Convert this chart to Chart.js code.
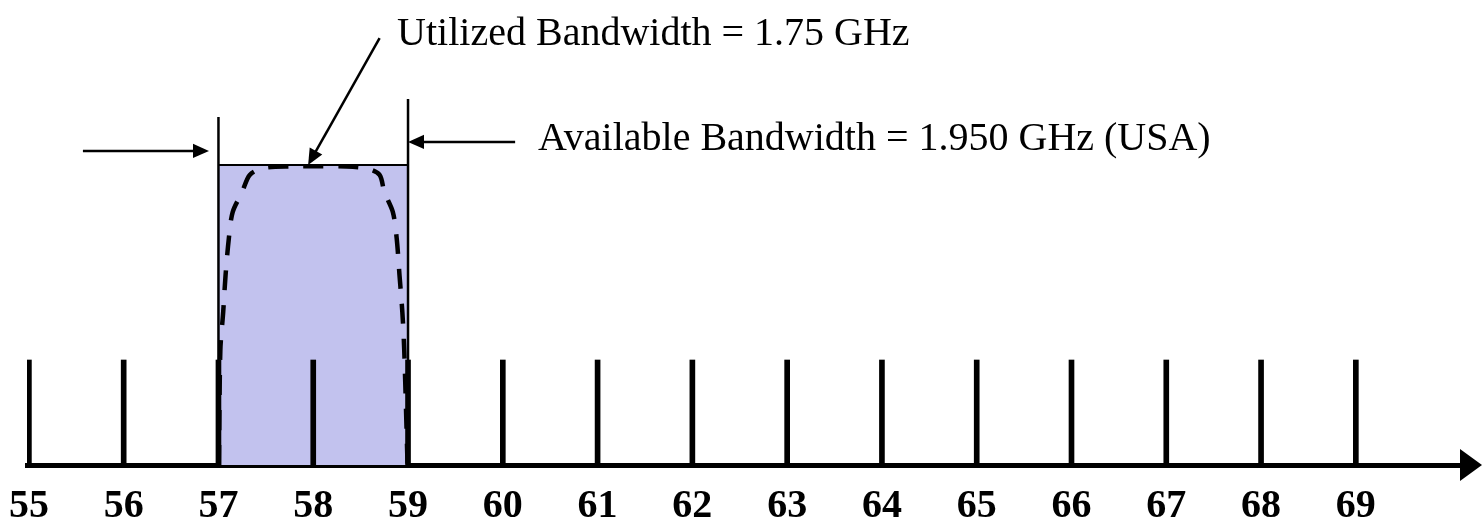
<!DOCTYPE html>
<html>
<head>
<meta charset="utf-8">
<script src="https://cdn.jsdelivr.net/npm/chart.js@4/dist/chart.umd.min.js"></script>
<style>
  html, body { margin: 0; padding: 0; background: #fff; }
  #wrap { width: 1482px; height: 524px; position: relative; }
</style>
</head>
<body>
<div id="wrap"><canvas id="spectrum"></canvas></div>
<script>
// channel numbers along the frequency axis
const channels = [55, 56, 57, 58, 59, 60, 61, 62, 63, 64, 65, 66, 67, 68, 69];
const channelLabels = ['55', '56', '57', '58', '59', '60', '61', '62', '63', '64', '65', '66', '67', '68', '69'];
const markerHeight = 0.35;

// available band (shaded) and its edge lines
const bandEdges = [57, 59];
const bandLevel = 1.0;
const edgeTops = [1.16, 1.22];

// utilized spectrum (dashed curve)
const utilX = [57.005, 57.02, 57.05, 57.075, 57.11, 57.15, 57.25, 57.33, 57.47, 57.76,
               58.35, 58.57, 58.70, 58.75, 58.84, 58.88, 58.91, 58.94, 58.96, 58.995];
const utilY = [0, 0.383, 0.51, 0.633, 0.757, 0.843, 0.91, 0.967, 0.99, 0.995,
               0.995, 0.988, 0.967, 0.91, 0.843, 0.757, 0.633, 0.51, 0.383, 0];

const utilizedText = 'Utilized Bandwidth = 1.75 GHz';
const availableText = 'Available Bandwidth = 1.950 GHz (USA)';

function arrow(ctx, x1, y1, x2, y2, head) {
  const a = Math.atan2(y2 - y1, x2 - x1);
  ctx.beginPath();
  ctx.moveTo(x1, y1);
  ctx.lineTo(x2 - Math.cos(a) * head * 0.8, y2 - Math.sin(a) * head * 0.8);
  ctx.stroke();
  ctx.beginPath();
  ctx.moveTo(x2, y2);
  ctx.lineTo(x2 - head * Math.cos(a) + head * 0.45 * Math.sin(a), y2 - head * Math.sin(a) - head * 0.45 * Math.cos(a));
  ctx.lineTo(x2 - head * Math.cos(a) - head * 0.45 * Math.sin(a), y2 - head * Math.sin(a) + head * 0.45 * Math.cos(a));
  ctx.closePath();
  ctx.fill();
}

// arrows, labels and the axis arrowhead
const notes = {
  id: 'notes',
  afterDraw(chart) {
    const { ctx, chartArea } = chart;
    const x = chart.scales.x, y = chart.scales.y;
    ctx.save();
    ctx.strokeStyle = '#000';
    ctx.fillStyle = '#000';
    ctx.lineWidth = 2.5;
    arrow(ctx, x.getPixelForValue(55.57), y.getPixelForValue(1.047), x.getPixelForValue(56.9), y.getPixelForValue(1.047), 16);
    arrow(ctx, x.getPixelForValue(60.13), y.getPixelForValue(1.077), x.getPixelForValue(59.0), y.getPixelForValue(1.077), 16);
    arrow(ctx, x.getPixelForValue(58.70), y.getPixelForValue(1.423), x.getPixelForValue(57.946), y.getPixelForValue(1.0), 16);

    ctx.font = '40px "Liberation Serif", "Times New Roman", serif';
    ctx.textBaseline = 'alphabetic';
    ctx.textAlign = 'left';
    ctx.fillText(utilizedText, x.getPixelForValue(58.885), y.getPixelForValue(1.40));
    ctx.fillText(availableText, x.getPixelForValue(60.37), y.getPixelForValue(1.05));

    // arrowhead at the end of the frequency axis
    const ay = chartArea.bottom, ax = chartArea.right;
    ctx.beginPath();
    ctx.moveTo(ax - 2, ay - 16);
    ctx.lineTo(ax + 20, ay);
    ctx.lineTo(ax - 2, ay + 16);
    ctx.closePath();
    ctx.fill();
    ctx.restore();
  }
};

new Chart(document.getElementById('spectrum'), {
  data: {
    datasets: [
      {
        type: 'line',
        label: 'Utilized',
        data: utilX.map((v, i) => ({ x: v, y: utilY[i] })),
        borderColor: '#000',
        borderWidth: 4.5,
        borderDash: [20, 15],
        pointRadius: 0,
        tension: 0.3,
        fill: false,
        order: 0
      },
      {
        type: 'bar',
        label: 'Channels',
        data: channels.map(c => ({ x: c, y: markerHeight })),
        backgroundColor: '#000',
        borderWidth: 0,
        barThickness: 5,
        order: 1
      },
      {
        type: 'line',
        label: 'Lower edge',
        data: [{ x: bandEdges[0], y: 0 }, { x: bandEdges[0], y: edgeTops[0] }],
        borderColor: '#000',
        borderWidth: 2.5,
        pointRadius: 0,
        fill: false,
        order: 2
      },
      {
        type: 'line',
        label: 'Upper edge',
        data: [{ x: bandEdges[1], y: 0 }, { x: bandEdges[1], y: edgeTops[1] }],
        borderColor: '#000',
        borderWidth: 2.5,
        pointRadius: 0,
        fill: false,
        order: 2
      },
      {
        type: 'line',
        label: 'Available',
        data: [{ x: bandEdges[0], y: bandLevel }, { x: bandEdges[1], y: bandLevel }],
        borderColor: '#000',
        borderWidth: 2,
        backgroundColor: 'rgb(194,194,238)',
        pointRadius: 0,
        fill: 'origin',
        order: 3
      }
    ]
  },
  options: {
    responsive: true,
    maintainAspectRatio: false,
    animation: false,
    layout: { padding: { left: 27, right: 20, top: 0, bottom: 0 } },
    plugins: {
      legend: { display: false },
      tooltip: { enabled: false }
    },
    scales: {
      x: {
        type: 'linear',
        offset: false,
        min: 54.98,
        max: 70.12,
        grid: { display: false, drawTicks: false, offset: false },
        border: { display: true, color: '#000', width: 5 },
        afterBuildTicks: s => { s.ticks = channels.map(v => ({ value: v })); },
        afterFit: s => { s.height = 59; s.paddingLeft = 0; s.paddingRight = 0; },
        ticks: {
          autoSkip: false,
          maxRotation: 0,
          padding: 18,
          color: '#000',
          font: { family: '"Liberation Serif", "Times New Roman", serif', size: 40, weight: 'bold' },
          callback: (v) => channelLabels[channels.indexOf(v)]
        }
      },
      y: {
        display: false,
        min: 0,
        max: 1.55
      }
    }
  },
  plugins: [notes]
});
</script>
</body>
</html>
